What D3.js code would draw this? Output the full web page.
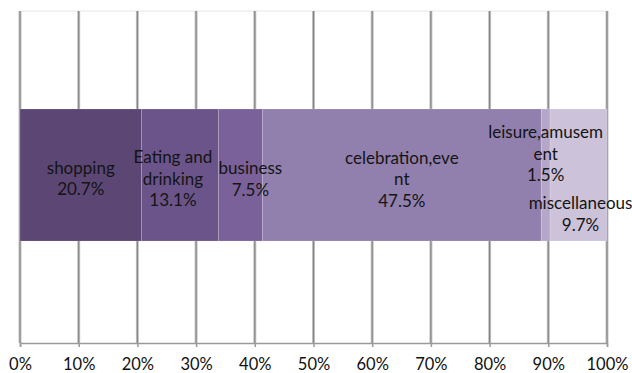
<!DOCTYPE html>
<html>
<head>
<meta charset="utf-8">
<script src="https://cdn.jsdelivr.net/npm/d3@7/dist/d3.min.js"></script>
<style>
  html, body { margin: 0; padding: 0; background: #fff; }
  svg { display: block; font-family: Lato, "Open Sans", sans-serif; }
</style>
</head>
<body>
<svg id="chart" width="632" height="373"></svg>
<script>
// Share of trip purposes, one stacked 100% bar
const categories = ["shopping", "Eating and drinking", "business", "celebration,event", "leisure,amusement", "miscellaneous"];
const shares = [20.7, 13.1, 7.5, 47.5, 1.5, 9.7];
const labelLines = [
  ["shopping"],
  ["Eating and", "drinking"],
  ["business"],
  ["celebration,eve", "nt"],
  ["leisure,amusem", "ent"],
  ["miscellaneous"]
];
const colors = ["#5b4674", "#6b5489", "#7b6199", "#9180ad", "#b4a7c8", "#ccc3da"];
const tickValues = [0, 10, 20, 30, 40, 50, 60, 70, 80, 90, 100];

const svg = d3.select("#chart");
const plot = { left: 20, right: 607, top: 11, bottom: 343, barTop: 109, barBottom: 241 };

const x = d3.scaleLinear().domain([0, 100]).range([plot.left, plot.right]);

// cumulative start/end of each segment
let acc = 0;
const segs = shares.map((v, i) => {
  const s = { name: categories[i], value: v, x0: acc, x1: acc + v, color: colors[i], lines: labelLines[i] };
  acc += v;
  return s;
});

// faint plot-area top edge
svg.append("line")
  .attr("x1", plot.left).attr("x2", plot.right)
  .attr("y1", plot.top).attr("y2", plot.top)
  .attr("stroke", "#e6e6e6").attr("stroke-width", 1);

// vertical gridlines
const grid = svg.append("g");
grid.selectAll("line.halo").data(tickValues).join("line")
  .attr("class", "halo")
  .attr("x1", d => x(d)).attr("x2", d => x(d))
  .attr("y1", plot.top).attr("y2", plot.bottom)
  .attr("stroke", "#c4c4c4").attr("stroke-width", 3);
grid.selectAll("line.core").data(tickValues).join("line")
  .attr("class", "core")
  .attr("x1", d => x(d)).attr("x2", d => x(d))
  .attr("y1", plot.top).attr("y2", plot.bottom)
  .attr("stroke", "#858585").attr("stroke-width", 1.2);

// stacked segments
svg.append("g").selectAll("rect").data(segs).join("rect")
  .attr("x", d => x(d.x0))
  .attr("width", d => x(d.x1) - x(d.x0))
  .attr("y", plot.barTop)
  .attr("height", plot.barBottom - plot.barTop)
  .attr("fill", d => d.color)
  .attr("stroke", "rgba(255,255,255,0.18)")
  .attr("stroke-width", 0.8);

// bottom axis
const axis = d3.axisBottom(x)
  .tickValues(tickValues)
  .tickFormat(d => d + "%")
  .tickSize(4)
  .tickPadding(11);
const ax = svg.append("g")
  .attr("transform", `translate(0,${plot.bottom})`)
  .call(axis);
ax.select(".domain").attr("stroke", "#9a9a9a").attr("stroke-width", 1.5);
ax.selectAll(".tick line").attr("stroke", "#9a9a9a").attr("stroke-width", 1.5);
ax.selectAll(".tick text")
  .attr("fill", "#111")
  .style("font-size", "16.5px")
  .style("font-family", "Lato, sans-serif");

// data labels: name lines followed by the value
const lineH = 21.5;
const layout = [
  { dx: 0,   cy: 177.5 },
  { dx: -7,  cy: 177.5 },
  { dx: 10,  cy: 178 },
  { dx: 0,   cy: 178 },
  { dx: 0,   cy: 152.5 },
  { dx: 2,   cy: 213 }
];
const labels = svg.append("g")
  .attr("font-size", "17px")
  .attr("fill", "#141414")
  .attr("text-anchor", "middle");
segs.forEach((d, i) => {
  const lines = d.lines.concat([d.value.toFixed(1) + "%"]);
  const cx = x((d.x0 + d.x1) / 2) + layout[i].dx;
  const y0 = layout[i].cy - (lines.length - 1) * lineH / 2;
  const t = labels.append("text")
    .attr("x", cx)
    .attr("dominant-baseline", "central");
  lines.forEach((ln, j) => {
    t.append("tspan")
      .attr("x", cx)
      .attr("y", y0 + j * lineH)
      .text(ln);
  });
});
</script>
</body>
</html>
